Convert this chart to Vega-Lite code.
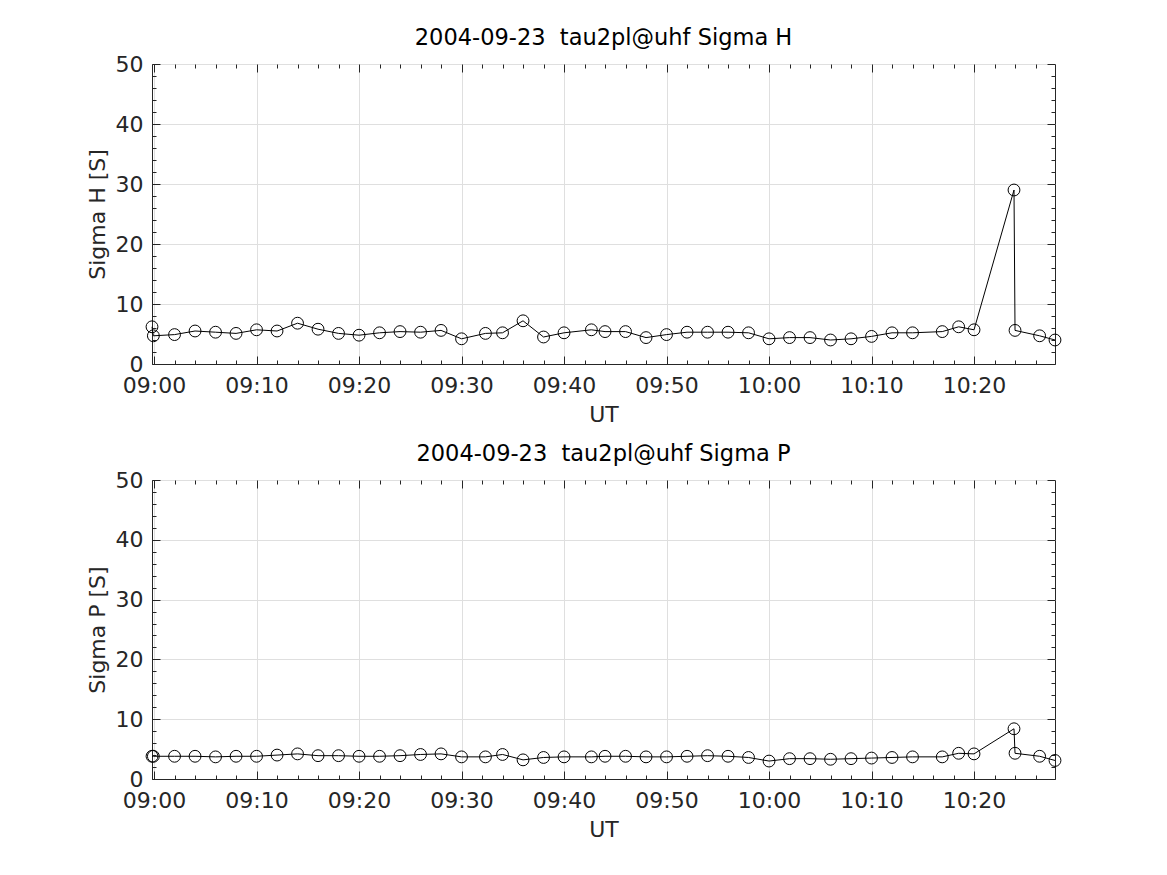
{
  "$schema": "https://vega.github.io/schema/vega-lite/v6.json",
  "background": "white",
  "padding": {"left": 85, "top": 26, "right": 5, "bottom": 5},
  "config": {
    "font": "DejaVu Sans",
    "view": {"stroke": "#262626", "strokeWidth": 1},
    "axis": {
      "labelFontSize": 22,
      "labelColor": "#262626",
      "titleFontSize": 22,
      "titleFontWeight": "normal",
      "titleColor": "#262626",
      "domainColor": "#262626",
      "tickColor": "#262626",
      "gridColor": "#dfdfdf"
    },
    "title": {"fontSize": 22.5, "fontWeight": "normal", "color": "#000000", "offset": 0}
  },
  "datasets": {
    "sigma": [
      {"t": "2004-09-23T08:59:48", "H": 6.2, "P": 3.8},
      {"t": "2004-09-23T08:59:56", "H": 4.7, "P": 3.8},
      {"t": "2004-09-23T09:02:00", "H": 4.9, "P": 3.8},
      {"t": "2004-09-23T09:04:00", "H": 5.5, "P": 3.8},
      {"t": "2004-09-23T09:06:00", "H": 5.3, "P": 3.7},
      {"t": "2004-09-23T09:08:00", "H": 5.1, "P": 3.8},
      {"t": "2004-09-23T09:10:00", "H": 5.7, "P": 3.8},
      {"t": "2004-09-23T09:12:00", "H": 5.5, "P": 4.0},
      {"t": "2004-09-23T09:14:00", "H": 6.8, "P": 4.2},
      {"t": "2004-09-23T09:16:00", "H": 5.8, "P": 3.9},
      {"t": "2004-09-23T09:18:00", "H": 5.1, "P": 3.9},
      {"t": "2004-09-23T09:20:00", "H": 4.8, "P": 3.8},
      {"t": "2004-09-23T09:22:00", "H": 5.2, "P": 3.8},
      {"t": "2004-09-23T09:24:00", "H": 5.4, "P": 3.9},
      {"t": "2004-09-23T09:26:00", "H": 5.3, "P": 4.1},
      {"t": "2004-09-23T09:28:00", "H": 5.6, "P": 4.2},
      {"t": "2004-09-23T09:30:00", "H": 4.2, "P": 3.7},
      {"t": "2004-09-23T09:32:20", "H": 5.1, "P": 3.7},
      {"t": "2004-09-23T09:34:00", "H": 5.2, "P": 4.1},
      {"t": "2004-09-23T09:36:00", "H": 7.2, "P": 3.2},
      {"t": "2004-09-23T09:38:00", "H": 4.5, "P": 3.6},
      {"t": "2004-09-23T09:40:00", "H": 5.2, "P": 3.7},
      {"t": "2004-09-23T09:42:40", "H": 5.7, "P": 3.7},
      {"t": "2004-09-23T09:44:00", "H": 5.4, "P": 3.8},
      {"t": "2004-09-23T09:46:00", "H": 5.4, "P": 3.8},
      {"t": "2004-09-23T09:48:00", "H": 4.4, "P": 3.7},
      {"t": "2004-09-23T09:50:00", "H": 4.9, "P": 3.7},
      {"t": "2004-09-23T09:52:00", "H": 5.3, "P": 3.8},
      {"t": "2004-09-23T09:54:00", "H": 5.3, "P": 3.9},
      {"t": "2004-09-23T09:56:00", "H": 5.3, "P": 3.8},
      {"t": "2004-09-23T09:58:00", "H": 5.2, "P": 3.6},
      {"t": "2004-09-23T10:00:00", "H": 4.2, "P": 3.0},
      {"t": "2004-09-23T10:02:00", "H": 4.4, "P": 3.4},
      {"t": "2004-09-23T10:04:00", "H": 4.4, "P": 3.4},
      {"t": "2004-09-23T10:06:00", "H": 4.0, "P": 3.3},
      {"t": "2004-09-23T10:08:00", "H": 4.2, "P": 3.4},
      {"t": "2004-09-23T10:10:00", "H": 4.6, "P": 3.5},
      {"t": "2004-09-23T10:12:00", "H": 5.2, "P": 3.6},
      {"t": "2004-09-23T10:14:00", "H": 5.2, "P": 3.7},
      {"t": "2004-09-23T10:16:54", "H": 5.4, "P": 3.7},
      {"t": "2004-09-23T10:18:30", "H": 6.2, "P": 4.3},
      {"t": "2004-09-23T10:20:00", "H": 5.7, "P": 4.2},
      {"t": "2004-09-23T10:23:54", "H": 29.0, "P": 8.4},
      {"t": "2004-09-23T10:24:00", "H": 5.6, "P": 4.3},
      {"t": "2004-09-23T10:26:24", "H": 4.7, "P": 3.8},
      {"t": "2004-09-23T10:27:54", "H": 4.0, "P": 3.1}
    ]
  },
  "vconcat": [
    {
      "title": "2004-09-23\u00a0 tau2pl@uhf Sigma H",
      "width": 903,
      "height": 300,
      "data": {"name": "sigma"},
      "resolve": {"axis": {"x": "independent", "y": "independent"}},
      "layer": [
        {
          "mark": {"type": "line", "color": "#000000", "strokeWidth": 1},
          "encoding": {
            "x": {"field": "t", "type": "temporal", "scale": {"nice": false},
              "axis": {"title": "UT", "format": "%H:%M", "labelOverlap": false,
                "values": [
                  {"year": 2004, "month": 9, "date": 23, "hours": 9, "minutes": 0},
                  {"year": 2004, "month": 9, "date": 23, "hours": 9, "minutes": 2},
                  {"year": 2004, "month": 9, "date": 23, "hours": 9, "minutes": 4},
                  {"year": 2004, "month": 9, "date": 23, "hours": 9, "minutes": 6},
                  {"year": 2004, "month": 9, "date": 23, "hours": 9, "minutes": 8},
                  {"year": 2004, "month": 9, "date": 23, "hours": 9, "minutes": 10},
                  {"year": 2004, "month": 9, "date": 23, "hours": 9, "minutes": 12},
                  {"year": 2004, "month": 9, "date": 23, "hours": 9, "minutes": 14},
                  {"year": 2004, "month": 9, "date": 23, "hours": 9, "minutes": 16},
                  {"year": 2004, "month": 9, "date": 23, "hours": 9, "minutes": 18},
                  {"year": 2004, "month": 9, "date": 23, "hours": 9, "minutes": 20},
                  {"year": 2004, "month": 9, "date": 23, "hours": 9, "minutes": 22},
                  {"year": 2004, "month": 9, "date": 23, "hours": 9, "minutes": 24},
                  {"year": 2004, "month": 9, "date": 23, "hours": 9, "minutes": 26},
                  {"year": 2004, "month": 9, "date": 23, "hours": 9, "minutes": 28},
                  {"year": 2004, "month": 9, "date": 23, "hours": 9, "minutes": 30},
                  {"year": 2004, "month": 9, "date": 23, "hours": 9, "minutes": 32},
                  {"year": 2004, "month": 9, "date": 23, "hours": 9, "minutes": 34},
                  {"year": 2004, "month": 9, "date": 23, "hours": 9, "minutes": 36},
                  {"year": 2004, "month": 9, "date": 23, "hours": 9, "minutes": 38},
                  {"year": 2004, "month": 9, "date": 23, "hours": 9, "minutes": 40},
                  {"year": 2004, "month": 9, "date": 23, "hours": 9, "minutes": 42},
                  {"year": 2004, "month": 9, "date": 23, "hours": 9, "minutes": 44},
                  {"year": 2004, "month": 9, "date": 23, "hours": 9, "minutes": 46},
                  {"year": 2004, "month": 9, "date": 23, "hours": 9, "minutes": 48},
                  {"year": 2004, "month": 9, "date": 23, "hours": 9, "minutes": 50},
                  {"year": 2004, "month": 9, "date": 23, "hours": 9, "minutes": 52},
                  {"year": 2004, "month": 9, "date": 23, "hours": 9, "minutes": 54},
                  {"year": 2004, "month": 9, "date": 23, "hours": 9, "minutes": 56},
                  {"year": 2004, "month": 9, "date": 23, "hours": 9, "minutes": 58},
                  {"year": 2004, "month": 9, "date": 23, "hours": 10, "minutes": 0},
                  {"year": 2004, "month": 9, "date": 23, "hours": 10, "minutes": 2},
                  {"year": 2004, "month": 9, "date": 23, "hours": 10, "minutes": 4},
                  {"year": 2004, "month": 9, "date": 23, "hours": 10, "minutes": 6},
                  {"year": 2004, "month": 9, "date": 23, "hours": 10, "minutes": 8},
                  {"year": 2004, "month": 9, "date": 23, "hours": 10, "minutes": 10},
                  {"year": 2004, "month": 9, "date": 23, "hours": 10, "minutes": 12},
                  {"year": 2004, "month": 9, "date": 23, "hours": 10, "minutes": 14},
                  {"year": 2004, "month": 9, "date": 23, "hours": 10, "minutes": 16},
                  {"year": 2004, "month": 9, "date": 23, "hours": 10, "minutes": 18},
                  {"year": 2004, "month": 9, "date": 23, "hours": 10, "minutes": 20},
                  {"year": 2004, "month": 9, "date": 23, "hours": 10, "minutes": 22},
                  {"year": 2004, "month": 9, "date": 23, "hours": 10, "minutes": 24},
                  {"year": 2004, "month": 9, "date": 23, "hours": 10, "minutes": 26}
                ],
                "labelExpr": "minutes(datum.value) % 10 == 0 ? timeFormat(datum.value, '%H:%M') : ''",
                "tickSize": {"condition": {"test": "minutes(datum.value) % 10 == 0", "value": -8}, "value": -4},
                "gridOpacity": {"condition": {"test": "minutes(datum.value) % 10 == 0", "value": 1}, "value": 0},
                "labelPadding": 19, "titlePadding": 4}},
            "y": {"field": "H", "type": "quantitative", "scale": {"domain": [0, 50], "nice": false},
              "axis": {"title": "Sigma H [S]", "labelOverlap": false, "values": [0,2,4,6,8,10,12,14,16,18,20,22,24,26,28,30,32,34,36,38,40,42,44,46,48,50],
                "labelExpr": "datum.value % 10 == 0 ? datum.label : ''",
                "tickSize": {"condition": {"test": "datum.value % 10 == 0", "value": -8}, "value": -4},
                "gridOpacity": {"condition": {"test": "datum.value % 10 == 0", "value": 1}, "value": 0},
                "labelPadding": 17, "titlePadding": 6}}
          }
        },
        {
          "mark": {"type": "point", "shape": "circle", "filled": false, "color": "#000000", "strokeWidth": 1, "size": 140, "opacity": 1},
          "encoding": {
            "x": {"field": "t", "type": "temporal",
              "axis": {"orient": "top", "title": null, "labels": false, "grid": false, "domain": false,
                "values": [
                  {"year": 2004, "month": 9, "date": 23, "hours": 9, "minutes": 0},
                  {"year": 2004, "month": 9, "date": 23, "hours": 9, "minutes": 2},
                  {"year": 2004, "month": 9, "date": 23, "hours": 9, "minutes": 4},
                  {"year": 2004, "month": 9, "date": 23, "hours": 9, "minutes": 6},
                  {"year": 2004, "month": 9, "date": 23, "hours": 9, "minutes": 8},
                  {"year": 2004, "month": 9, "date": 23, "hours": 9, "minutes": 10},
                  {"year": 2004, "month": 9, "date": 23, "hours": 9, "minutes": 12},
                  {"year": 2004, "month": 9, "date": 23, "hours": 9, "minutes": 14},
                  {"year": 2004, "month": 9, "date": 23, "hours": 9, "minutes": 16},
                  {"year": 2004, "month": 9, "date": 23, "hours": 9, "minutes": 18},
                  {"year": 2004, "month": 9, "date": 23, "hours": 9, "minutes": 20},
                  {"year": 2004, "month": 9, "date": 23, "hours": 9, "minutes": 22},
                  {"year": 2004, "month": 9, "date": 23, "hours": 9, "minutes": 24},
                  {"year": 2004, "month": 9, "date": 23, "hours": 9, "minutes": 26},
                  {"year": 2004, "month": 9, "date": 23, "hours": 9, "minutes": 28},
                  {"year": 2004, "month": 9, "date": 23, "hours": 9, "minutes": 30},
                  {"year": 2004, "month": 9, "date": 23, "hours": 9, "minutes": 32},
                  {"year": 2004, "month": 9, "date": 23, "hours": 9, "minutes": 34},
                  {"year": 2004, "month": 9, "date": 23, "hours": 9, "minutes": 36},
                  {"year": 2004, "month": 9, "date": 23, "hours": 9, "minutes": 38},
                  {"year": 2004, "month": 9, "date": 23, "hours": 9, "minutes": 40},
                  {"year": 2004, "month": 9, "date": 23, "hours": 9, "minutes": 42},
                  {"year": 2004, "month": 9, "date": 23, "hours": 9, "minutes": 44},
                  {"year": 2004, "month": 9, "date": 23, "hours": 9, "minutes": 46},
                  {"year": 2004, "month": 9, "date": 23, "hours": 9, "minutes": 48},
                  {"year": 2004, "month": 9, "date": 23, "hours": 9, "minutes": 50},
                  {"year": 2004, "month": 9, "date": 23, "hours": 9, "minutes": 52},
                  {"year": 2004, "month": 9, "date": 23, "hours": 9, "minutes": 54},
                  {"year": 2004, "month": 9, "date": 23, "hours": 9, "minutes": 56},
                  {"year": 2004, "month": 9, "date": 23, "hours": 9, "minutes": 58},
                  {"year": 2004, "month": 9, "date": 23, "hours": 10, "minutes": 0},
                  {"year": 2004, "month": 9, "date": 23, "hours": 10, "minutes": 2},
                  {"year": 2004, "month": 9, "date": 23, "hours": 10, "minutes": 4},
                  {"year": 2004, "month": 9, "date": 23, "hours": 10, "minutes": 6},
                  {"year": 2004, "month": 9, "date": 23, "hours": 10, "minutes": 8},
                  {"year": 2004, "month": 9, "date": 23, "hours": 10, "minutes": 10},
                  {"year": 2004, "month": 9, "date": 23, "hours": 10, "minutes": 12},
                  {"year": 2004, "month": 9, "date": 23, "hours": 10, "minutes": 14},
                  {"year": 2004, "month": 9, "date": 23, "hours": 10, "minutes": 16},
                  {"year": 2004, "month": 9, "date": 23, "hours": 10, "minutes": 18},
                  {"year": 2004, "month": 9, "date": 23, "hours": 10, "minutes": 20},
                  {"year": 2004, "month": 9, "date": 23, "hours": 10, "minutes": 22},
                  {"year": 2004, "month": 9, "date": 23, "hours": 10, "minutes": 24},
                  {"year": 2004, "month": 9, "date": 23, "hours": 10, "minutes": 26}
                ],
                "tickSize": {"condition": {"test": "minutes(datum.value) % 10 == 0", "value": -8}, "value": -4}}},
            "y": {"field": "H", "type": "quantitative",
              "axis": {"orient": "right", "title": null, "labels": false, "grid": false, "domain": false,
                "values": [0,2,4,6,8,10,12,14,16,18,20,22,24,26,28,30,32,34,36,38,40,42,44,46,48,50],
                "tickSize": {"condition": {"test": "datum.value % 10 == 0", "value": -8}, "value": -4}}}
          }
        }
      ]
    },
    {
      "title": "2004-09-23\u00a0 tau2pl@uhf Sigma P",
      "width": 903,
      "height": 299,
      "data": {"name": "sigma"},
      "resolve": {"axis": {"x": "independent", "y": "independent"}},
      "layer": [
        {
          "mark": {"type": "line", "color": "#000000", "strokeWidth": 1},
          "encoding": {
            "x": {"field": "t", "type": "temporal", "scale": {"nice": false},
              "axis": {"title": "UT", "format": "%H:%M", "labelOverlap": false,
                "values": [
                  {"year": 2004, "month": 9, "date": 23, "hours": 9, "minutes": 0},
                  {"year": 2004, "month": 9, "date": 23, "hours": 9, "minutes": 2},
                  {"year": 2004, "month": 9, "date": 23, "hours": 9, "minutes": 4},
                  {"year": 2004, "month": 9, "date": 23, "hours": 9, "minutes": 6},
                  {"year": 2004, "month": 9, "date": 23, "hours": 9, "minutes": 8},
                  {"year": 2004, "month": 9, "date": 23, "hours": 9, "minutes": 10},
                  {"year": 2004, "month": 9, "date": 23, "hours": 9, "minutes": 12},
                  {"year": 2004, "month": 9, "date": 23, "hours": 9, "minutes": 14},
                  {"year": 2004, "month": 9, "date": 23, "hours": 9, "minutes": 16},
                  {"year": 2004, "month": 9, "date": 23, "hours": 9, "minutes": 18},
                  {"year": 2004, "month": 9, "date": 23, "hours": 9, "minutes": 20},
                  {"year": 2004, "month": 9, "date": 23, "hours": 9, "minutes": 22},
                  {"year": 2004, "month": 9, "date": 23, "hours": 9, "minutes": 24},
                  {"year": 2004, "month": 9, "date": 23, "hours": 9, "minutes": 26},
                  {"year": 2004, "month": 9, "date": 23, "hours": 9, "minutes": 28},
                  {"year": 2004, "month": 9, "date": 23, "hours": 9, "minutes": 30},
                  {"year": 2004, "month": 9, "date": 23, "hours": 9, "minutes": 32},
                  {"year": 2004, "month": 9, "date": 23, "hours": 9, "minutes": 34},
                  {"year": 2004, "month": 9, "date": 23, "hours": 9, "minutes": 36},
                  {"year": 2004, "month": 9, "date": 23, "hours": 9, "minutes": 38},
                  {"year": 2004, "month": 9, "date": 23, "hours": 9, "minutes": 40},
                  {"year": 2004, "month": 9, "date": 23, "hours": 9, "minutes": 42},
                  {"year": 2004, "month": 9, "date": 23, "hours": 9, "minutes": 44},
                  {"year": 2004, "month": 9, "date": 23, "hours": 9, "minutes": 46},
                  {"year": 2004, "month": 9, "date": 23, "hours": 9, "minutes": 48},
                  {"year": 2004, "month": 9, "date": 23, "hours": 9, "minutes": 50},
                  {"year": 2004, "month": 9, "date": 23, "hours": 9, "minutes": 52},
                  {"year": 2004, "month": 9, "date": 23, "hours": 9, "minutes": 54},
                  {"year": 2004, "month": 9, "date": 23, "hours": 9, "minutes": 56},
                  {"year": 2004, "month": 9, "date": 23, "hours": 9, "minutes": 58},
                  {"year": 2004, "month": 9, "date": 23, "hours": 10, "minutes": 0},
                  {"year": 2004, "month": 9, "date": 23, "hours": 10, "minutes": 2},
                  {"year": 2004, "month": 9, "date": 23, "hours": 10, "minutes": 4},
                  {"year": 2004, "month": 9, "date": 23, "hours": 10, "minutes": 6},
                  {"year": 2004, "month": 9, "date": 23, "hours": 10, "minutes": 8},
                  {"year": 2004, "month": 9, "date": 23, "hours": 10, "minutes": 10},
                  {"year": 2004, "month": 9, "date": 23, "hours": 10, "minutes": 12},
                  {"year": 2004, "month": 9, "date": 23, "hours": 10, "minutes": 14},
                  {"year": 2004, "month": 9, "date": 23, "hours": 10, "minutes": 16},
                  {"year": 2004, "month": 9, "date": 23, "hours": 10, "minutes": 18},
                  {"year": 2004, "month": 9, "date": 23, "hours": 10, "minutes": 20},
                  {"year": 2004, "month": 9, "date": 23, "hours": 10, "minutes": 22},
                  {"year": 2004, "month": 9, "date": 23, "hours": 10, "minutes": 24},
                  {"year": 2004, "month": 9, "date": 23, "hours": 10, "minutes": 26}
                ],
                "labelExpr": "minutes(datum.value) % 10 == 0 ? timeFormat(datum.value, '%H:%M') : ''",
                "tickSize": {"condition": {"test": "minutes(datum.value) % 10 == 0", "value": -8}, "value": -4},
                "gridOpacity": {"condition": {"test": "minutes(datum.value) % 10 == 0", "value": 1}, "value": 0},
                "labelPadding": 19, "titlePadding": 4}},
            "y": {"field": "P", "type": "quantitative", "scale": {"domain": [0, 50], "nice": false},
              "axis": {"title": "Sigma P [S]", "labelOverlap": false, "values": [0,2,4,6,8,10,12,14,16,18,20,22,24,26,28,30,32,34,36,38,40,42,44,46,48,50],
                "labelExpr": "datum.value % 10 == 0 ? datum.label : ''",
                "tickSize": {"condition": {"test": "datum.value % 10 == 0", "value": -8}, "value": -4},
                "gridOpacity": {"condition": {"test": "datum.value % 10 == 0", "value": 1}, "value": 0},
                "labelPadding": 17, "titlePadding": 6}}
          }
        },
        {
          "mark": {"type": "point", "shape": "circle", "filled": false, "color": "#000000", "strokeWidth": 1, "size": 140, "opacity": 1},
          "encoding": {
            "x": {"field": "t", "type": "temporal",
              "axis": {"orient": "top", "title": null, "labels": false, "grid": false, "domain": false,
                "values": [
                  {"year": 2004, "month": 9, "date": 23, "hours": 9, "minutes": 0},
                  {"year": 2004, "month": 9, "date": 23, "hours": 9, "minutes": 2},
                  {"year": 2004, "month": 9, "date": 23, "hours": 9, "minutes": 4},
                  {"year": 2004, "month": 9, "date": 23, "hours": 9, "minutes": 6},
                  {"year": 2004, "month": 9, "date": 23, "hours": 9, "minutes": 8},
                  {"year": 2004, "month": 9, "date": 23, "hours": 9, "minutes": 10},
                  {"year": 2004, "month": 9, "date": 23, "hours": 9, "minutes": 12},
                  {"year": 2004, "month": 9, "date": 23, "hours": 9, "minutes": 14},
                  {"year": 2004, "month": 9, "date": 23, "hours": 9, "minutes": 16},
                  {"year": 2004, "month": 9, "date": 23, "hours": 9, "minutes": 18},
                  {"year": 2004, "month": 9, "date": 23, "hours": 9, "minutes": 20},
                  {"year": 2004, "month": 9, "date": 23, "hours": 9, "minutes": 22},
                  {"year": 2004, "month": 9, "date": 23, "hours": 9, "minutes": 24},
                  {"year": 2004, "month": 9, "date": 23, "hours": 9, "minutes": 26},
                  {"year": 2004, "month": 9, "date": 23, "hours": 9, "minutes": 28},
                  {"year": 2004, "month": 9, "date": 23, "hours": 9, "minutes": 30},
                  {"year": 2004, "month": 9, "date": 23, "hours": 9, "minutes": 32},
                  {"year": 2004, "month": 9, "date": 23, "hours": 9, "minutes": 34},
                  {"year": 2004, "month": 9, "date": 23, "hours": 9, "minutes": 36},
                  {"year": 2004, "month": 9, "date": 23, "hours": 9, "minutes": 38},
                  {"year": 2004, "month": 9, "date": 23, "hours": 9, "minutes": 40},
                  {"year": 2004, "month": 9, "date": 23, "hours": 9, "minutes": 42},
                  {"year": 2004, "month": 9, "date": 23, "hours": 9, "minutes": 44},
                  {"year": 2004, "month": 9, "date": 23, "hours": 9, "minutes": 46},
                  {"year": 2004, "month": 9, "date": 23, "hours": 9, "minutes": 48},
                  {"year": 2004, "month": 9, "date": 23, "hours": 9, "minutes": 50},
                  {"year": 2004, "month": 9, "date": 23, "hours": 9, "minutes": 52},
                  {"year": 2004, "month": 9, "date": 23, "hours": 9, "minutes": 54},
                  {"year": 2004, "month": 9, "date": 23, "hours": 9, "minutes": 56},
                  {"year": 2004, "month": 9, "date": 23, "hours": 9, "minutes": 58},
                  {"year": 2004, "month": 9, "date": 23, "hours": 10, "minutes": 0},
                  {"year": 2004, "month": 9, "date": 23, "hours": 10, "minutes": 2},
                  {"year": 2004, "month": 9, "date": 23, "hours": 10, "minutes": 4},
                  {"year": 2004, "month": 9, "date": 23, "hours": 10, "minutes": 6},
                  {"year": 2004, "month": 9, "date": 23, "hours": 10, "minutes": 8},
                  {"year": 2004, "month": 9, "date": 23, "hours": 10, "minutes": 10},
                  {"year": 2004, "month": 9, "date": 23, "hours": 10, "minutes": 12},
                  {"year": 2004, "month": 9, "date": 23, "hours": 10, "minutes": 14},
                  {"year": 2004, "month": 9, "date": 23, "hours": 10, "minutes": 16},
                  {"year": 2004, "month": 9, "date": 23, "hours": 10, "minutes": 18},
                  {"year": 2004, "month": 9, "date": 23, "hours": 10, "minutes": 20},
                  {"year": 2004, "month": 9, "date": 23, "hours": 10, "minutes": 22},
                  {"year": 2004, "month": 9, "date": 23, "hours": 10, "minutes": 24},
                  {"year": 2004, "month": 9, "date": 23, "hours": 10, "minutes": 26}
                ],
                "tickSize": {"condition": {"test": "minutes(datum.value) % 10 == 0", "value": -8}, "value": -4}}},
            "y": {"field": "P", "type": "quantitative",
              "axis": {"orient": "right", "title": null, "labels": false, "grid": false, "domain": false,
                "values": [0,2,4,6,8,10,12,14,16,18,20,22,24,26,28,30,32,34,36,38,40,42,44,46,48,50],
                "tickSize": {"condition": {"test": "datum.value % 10 == 0", "value": -8}, "value": -4}}}
          }
        }
      ]
    }
  ],
  "spacing": 16
}
